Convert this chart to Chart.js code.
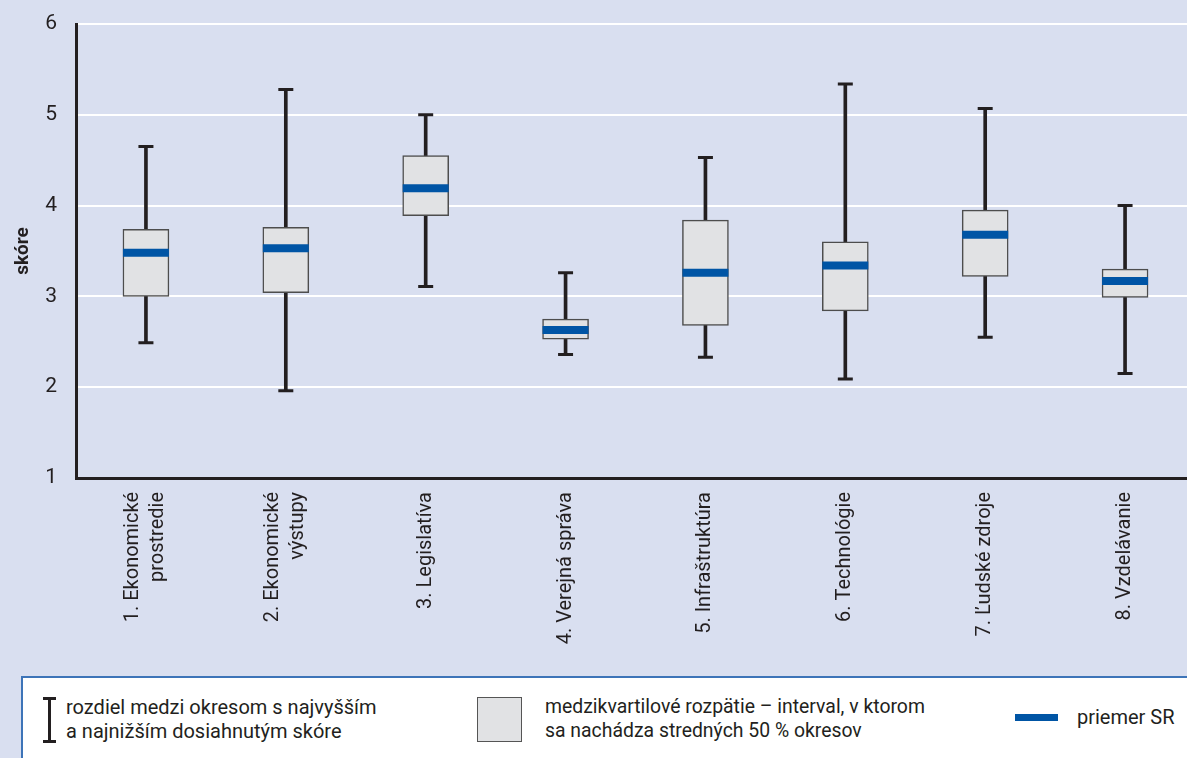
<!DOCTYPE html>
<html>
<head>
<meta charset="utf-8">
<script src="https://cdn.jsdelivr.net/npm/chart.js@4.4.1/dist/chart.umd.min.js"></script>
<style>
  html, body { margin: 0; padding: 0; background: #d9dff0; }
  body { width: 1187px; height: 758px; position: relative; overflow: hidden;
         font-family: Roboto, "Liberation Sans", sans-serif; color: #231f20; }
  /* plot runs a little past the right edge, as in the source figure */
  #wrap { position: absolute; left: 0; top: 0; width: 1195px; height: 658px; }
  #legend { position: absolute; left: 21px; top: 676px; right: -4px; bottom: -4px;
            background: #fff; border-top: 2px solid #3d74b8; border-left: 2px solid #3d74b8; }
  .txt { position: absolute; font-size: 20px; line-height: 24px; white-space: nowrap; }
  .blk { position: absolute; }
</style>
</head>
<body>
<div id="wrap"><canvas id="boxChart"></canvas></div>

<div id="legend"></div>
<!-- legend symbols, page coordinates -->
<div class="blk" style="left:43px; top:697px; width:13px; height:3px; background:#231f20"></div>
<div class="blk" style="left:48px; top:697px; width:3px; height:46px; background:#231f20"></div>
<div class="blk" style="left:43px; top:740px; width:13px; height:3px; background:#231f20"></div>
<div class="txt" style="left:66px; top:695px">rozdiel medzi okresom s najvyšším<br>a najnižším dosiahnutým skóre</div>

<div class="blk" style="left:477px; top:697px; width:43px; height:43px; background:#e1e2e4; border:1.5px solid #555"></div>
<div class="txt" style="left:545px; top:695px; font-size:19.4px">medzikvartilové rozpätie – interval, v ktorom<br>sa nachádza stredných 50 % okresov</div>

<div class="blk" style="left:1015px; top:714px; width:43px; height:7px; background:#0055a5"></div>
<div class="txt" style="left:1077px; top:705px">priemer SR</div>

<script>
// categories (x axis)
const categories = [
    ['1. Ekonomické', 'prostredie'],
    ['2. Ekonomické', 'výstupy'],
    ['3. Legislatíva'],
    ['4. Verejná správa'],
    ['5. Infraštruktúra'],
    ['6. Technológie'],
    ['7. Ľudské zdroje'],
    ['8. Vzdelávanie']
];

// district scores per pillar
const minScore = [2.49, 1.96, 3.11, 2.36, 2.33, 2.09, 2.55, 2.15];
const q1Score  = [3.00, 3.04, 3.89, 2.53, 2.68, 2.84, 3.22, 2.99];
const q3Score  = [3.74, 3.76, 4.55, 2.75, 3.84, 3.60, 3.95, 3.30];
const maxScore = [4.65, 5.28, 5.00, 3.26, 4.53, 5.34, 5.07, 4.00];
const meanSR   = [3.48, 3.53, 4.19, 2.63, 3.26, 3.34, 3.68, 3.17];

// y axis ticks
const yTicks = [1, 2, 3, 4, 5, 6];

const FONT = 'Roboto, "Liberation Sans", sans-serif';
const INK = '#231f20';

const whiskers = minScore.map((v, i) => [v, maxScore[i]]);
const boxes = q1Score.map((v, i) => [v, q3Score[i]]);

// rotated category labels, centred on each category pixel
const categoryLabels = {
    id: 'categoryLabels',
    afterDraw(chart) {
        const xScale = chart.scales.x;
        const c = chart.ctx;
        const lineH = 25;
        c.save();
        c.font = '20px ' + FONT;
        c.fillStyle = INK;
        c.textAlign = 'right';
        c.textBaseline = 'middle';
        categories.forEach((lines, i) => {
            const px = xScale.getPixelForValue(i);
            c.save();
            c.translate(px, xScale.top + 14);
            c.rotate(-Math.PI / 2);
            lines.forEach((txt, k) => {
                c.fillText(txt, 0, (k - (lines.length - 1) / 2) * lineH);
            });
            c.restore();
        });
        c.restore();
    }
};

const ctx = document.getElementById('boxChart').getContext('2d');

new Chart(ctx, {
    type: 'bar',
    data: {
        labels: categories.map(l => l.join(' ')),
        datasets: [
            {
                // national average
                type: 'line',
                data: meanSR,
                showLine: false,
                pointStyle: 'line',
                pointRadius: 23,
                pointBorderWidth: 8,
                pointBorderColor: '#0055a5',
                order: 0
            },
            {
                // upper caps
                type: 'line',
                data: maxScore,
                showLine: false,
                pointStyle: 'line',
                pointRadius: 7.5,
                pointBorderWidth: 3,
                pointBorderColor: INK,
                order: 1
            },
            {
                // lower caps
                type: 'line',
                data: minScore,
                showLine: false,
                pointStyle: 'line',
                pointRadius: 7.5,
                pointBorderWidth: 3,
                pointBorderColor: INK,
                order: 1
            },
            {
                // interquartile box
                data: boxes,
                backgroundColor: '#e1e2e4',
                borderColor: '#4d4d4d',
                borderWidth: 1.5,
                borderSkipped: false,
                barThickness: 46,
                grouped: false,
                order: 2
            },
            {
                // min-max whisker
                data: whiskers,
                backgroundColor: INK,
                borderWidth: 0,
                barThickness: 3,
                grouped: false,
                order: 3
            }
        ]
    },
    options: {
        responsive: true,
        maintainAspectRatio: false,
        animation: false,
        events: [],
        layout: {
            autoPadding: false,
            padding: { top: 24, right: 0, bottom: 0, left: 0 }
        },
        plugins: {
            legend: { display: false },
            tooltip: { enabled: false }
        },
        scales: {
            x: {
                offset: true,
                grid: { display: false },
                border: { display: true, color: INK, width: 3 },
                ticks: { display: false },
                afterFit: (scale) => {
                    scale.height = 180;
                    scale.paddingLeft = 0;
                    scale.paddingRight = 0;
                }
            },
            y: {
                min: 1,
                max: 6,
                afterBuildTicks: (axis) => {
                    axis.ticks = yTicks.map(v => ({ value: v }));
                },
                afterFit: (scale) => {
                    scale.width = 76;
                    scale.paddingTop = 0;
                    scale.paddingBottom = 0;
                },
                grid: {
                    color: (c) => c.tick && c.tick.value === 1 ? 'rgba(0,0,0,0)' : '#ffffff',
                    lineWidth: 2,
                    drawTicks: false
                },
                border: { display: true, color: INK, width: 3 },
                ticks: {
                    color: INK,
                    font: { family: FONT, size: 21 },
                    padding: 19
                },
                title: {
                    display: true,
                    text: 'skóre',
                    color: INK,
                    font: { family: FONT, size: 19, weight: 'bold' },
                    padding: { top: 12, bottom: 0 }
                }
            }
        }
    },
    plugins: [categoryLabels]
});
</script>
</body>
</html>
